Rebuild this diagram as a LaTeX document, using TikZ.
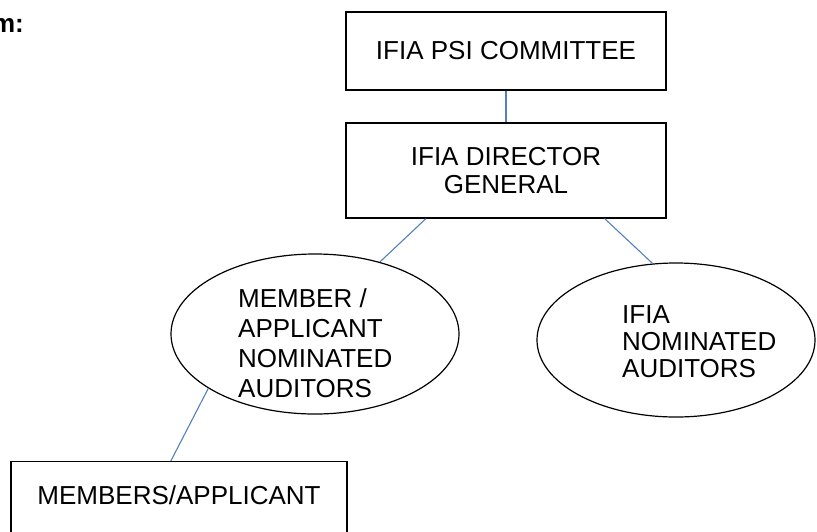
\documentclass[tikz,border=0pt]{standalone}
\usepackage{fontspec}
\setmainfont{Liberation Sans}
\usepackage{xcolor}
\usepackage{tikz}
\usetikzlibrary{shapes.geometric}
\definecolor{lienbleu}{HTML}{4F81BD}

\tikzset{
    boite/.style={draw=black, line width=1.2pt, rectangle, align=center, inner sep=0pt},
    bulle/.style={draw=black, line width=1.2pt, ellipse, inner sep=0pt},
    texte/.style={align=left, inner sep=0pt},
    lien/.style={draw=lienbleu, line width=1.1pt}
}

\begin{document}
\begin{tikzpicture}[x=1pt, y=-1pt]
    \useasboundingbox (0, 0) rectangle (817, 531);
    \fontsize{26}{28}\selectfont

    % Titre coupe en haut a gauche
    \node[anchor=base east, inner sep=0pt] (titre) at (24, 32) {\bfseries m:};

    % Comite en haut
    \node[boite, minimum width=320, minimum height=78] (comite) at (506, 51) {IFIA PSI COMMITTEE};

    % Directeur general
    \node[boite, minimum width=320, minimum height=95] (directeur) at (506, 170.5) {IFIA DIRECTOR\\GENERAL};

    % Auditeurs des membres (ellipse gauche)
    \node[bulle, minimum width=288, minimum height=160] (auditmembres) at (315, 334) {};
    \node[texte, anchor=west, font=\fontsize{26}{30}\selectfont] (txtmembres) at (238, 343) {MEMBER /\\APPLICANT\\NOMINATED\\AUDITORS};

    % Auditeurs IFIA (ellipse droite)
    \node[bulle, minimum width=278, minimum height=154] (auditifia) at (676, 340) {};
    \node[texte, anchor=west, font=\fontsize{26}{27}\selectfont] (txtifia) at (622, 342) {IFIA\\NOMINATED\\AUDITORS};

    % Membres en bas (coupe par le bord)
    \node[boite, anchor=north, minimum width=336, text height=43pt, text depth=40pt] (membres) at (179, 461) {MEMBERS/APPLICANT};

    % Liens
    \draw[lien] (comite.south) -- (directeur.north);
    \draw[lien] (directeur.211) -- (auditmembres.48);
    \draw[lien] (directeur.334) -- (auditifia.107);
    \draw[lien] (auditmembres.207) -- (membres.101);
\end{tikzpicture}
\end{document}
